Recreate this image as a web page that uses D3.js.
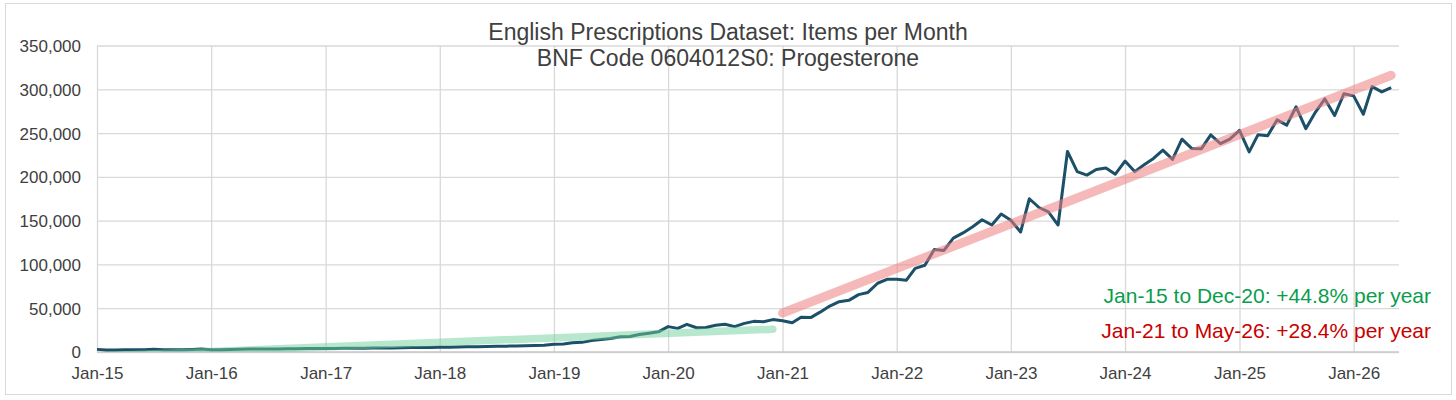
<!DOCTYPE html>
<meta charset="utf-8">
<script src="https://d3js.org/d3.v7.min.js"></script>
<style type="text/css">
body { margin: 0; background: #fff; }
text { font-family: "Liberation Sans", Arial, sans-serif; }
.grade { stroke: #d9d9d9; stroke-width: 1.3; }
.rotulo { fill: #404040; font-size: 17px; }
.serie { fill: none; stroke: #1c4f68; stroke-width: 3; stroke-linejoin: round; }
</style>
<body>
<div id="canvas"></div>
<script>

// monthly items, Jan-15 .. May-26
var inicio = new Date(2015, 0, 1);
var itens = [
    3000, 2400, 2400, 2500, 2600, 2700, 3000, 2600, 2500, 2700, 2900, 3300,
    2600, 2600, 2900, 3200, 3400, 3300, 3500, 3400, 3600, 3800, 3900, 4000,
    4100, 3900, 4200, 4400, 4300, 4600, 4700, 4600, 4900, 5000, 5100, 5200,
    5300, 5400, 5600, 5900, 6100, 6300, 6500, 6700, 6800, 7000, 7300, 7600,
    8800, 9200, 10500, 11000, 13000, 14200, 15400, 17300, 17800, 20000, 21500, 23000,
    29000, 27000, 31600, 27700, 28000, 30500, 31600, 29000, 32700, 35000, 34600, 37000,
    35700, 33400, 39600, 39300, 45500, 52500, 57500, 59000, 65500, 68000, 78500, 83000,
    83000, 82000, 95500, 99000, 117000, 116000, 130000, 136000, 143000, 151000, 145000, 157500,
    150500, 137000, 175000, 165000, 160000, 145000, 229000, 206000, 202000, 208500, 210000, 203000,
    218000, 206000, 213500, 221000, 230500, 220000, 243000, 232500, 232000, 248000, 238000, 243000,
    253000, 228500, 248000, 247000, 265000, 259000, 280000, 255000, 274000, 289000, 270000, 295000,
    292500, 271500, 303000, 297000, 302000
];
var meses = itens.map(function(d, i) { return d3.timeMonth.offset(inicio, i); });

// trend lines (end points)
var tendVerde = [[new Date(2015, 0, 1), -4500], [new Date(2020, 11, 1), 26000]];
var tendVermelha = [[new Date(2021, 0, 1), 44500], [new Date(2026, 4, 1), 316000]];

var anos = ["Jan-15", "Jan-16", "Jan-17", "Jan-18", "Jan-19", "Jan-20", "Jan-21",
            "Jan-22", "Jan-23", "Jan-24", "Jan-25", "Jan-26"];
var valoresY = [0, 50000, 100000, 150000, 200000, 250000, 300000, 350000];

var titulo = ["English Prescriptions Dataset: Items per Month", "BNF Code 0604012S0: Progesterone"];
var notas = [
    {texto: "Jan-15 to Dec-20: +44.8% per year", cor: "#0a9d4c"},
    {texto: "Jan-21 to May-26: +28.4% per year", cor: "#c80000"}
];

var width = 1456;
var height = 400;

var svg = d3.select('#canvas')
    .append("svg")
    .attr('width', width)
    .attr('height', height);

// moldura
svg.append("rect")
    .attr("x", 5.5).attr("y", 3.5)
    .attr("width", 1446).attr("height", 391)
    .attr("fill", "#fff")
    .attr("stroke", "#d9d9d9");

var esq = 97, dir = 1399, topo = 45.5, base = 352;

var x = d3.scaleTime()
    .domain([inicio, new Date(2026, 4, 26)])
    .range([esq, dir]);
var y = d3.scaleLinear()
    .domain([0, 350000])
    .range([base, topo]);

var tickDatas = anos.map(function(a, i) { return new Date(2015 + i, 0, 1); });

// grade horizontal
svg.append("g")
    .attr("transform", "translate(" + esq + ",0)")
    .call(d3.axisLeft(y).tickValues(valoresY).tickSize(-(dir - esq)).tickFormat(""))
    .call(function(g) { g.select(".domain").remove(); })
    .selectAll("line").attr("class", "grade");

// grade vertical
svg.append("g")
    .attr("transform", "translate(0," + base + ")")
    .call(d3.axisBottom(x).tickValues(tickDatas).tickSize(-(base - topo)).tickFormat(""))
    .call(function(g) { g.select(".domain").remove(); })
    .selectAll("line").attr("class", "grade");

// rotulos eixo Y
var eixoY = svg.append("g")
    .attr("transform", "translate(" + 81 + ",0)")
    .call(d3.axisLeft(y).tickValues(valoresY).tickSize(0).tickPadding(0).tickFormat(d3.format(",")));
eixoY.select(".domain").remove();
eixoY.selectAll("text").attr("class", "rotulo").attr("dy", "0.35em");

// rotulos eixo X
var eixoX = svg.append("g")
    .attr("transform", "translate(0," + base + ")")
    .call(d3.axisBottom(x).tickValues(tickDatas).tickSize(0).tickPadding(0)
        .tickFormat(function(d, i) { return anos[i]; }));
eixoX.select(".domain").remove();
eixoX.selectAll("text").attr("class", "rotulo").attr("dy", null).attr("y", 27);

// linha do eixo
svg.append("line")
    .attr("x1", esq).attr("x2", dir)
    .attr("y1", base).attr("y2", base)
    .attr("stroke", "#c8c8c8").attr("stroke-width", 1.5);

svg.append("clipPath").attr("id", "area")
    .append("rect").attr("x", esq).attr("y", topo)
    .attr("width", dir - esq).attr("height", base - topo);

var line = d3.line()
    .x(function(d) { return x(d[0]); })
    .y(function(d) { return y(d[1]); });

var pontos = meses.map(function(m, i) { return [m, itens[i]]; });

svg.append("path")
    .attr("d", line(pontos))
    .attr("class", "serie");

// tendencias
svg.append("path")
    .attr("d", line(tendVerde))
    .attr("clip-path", "url(#area)")
    .attr("stroke", "#6fcf9a").attr("stroke-opacity", 0.5)
    .attr("stroke-width", 7.5).attr("stroke-linecap", "round").attr("fill", "none");

svg.append("path")
    .attr("d", line(tendVermelha))
    .attr("clip-path", "url(#area)")
    .attr("stroke", "#ee8080").attr("stroke-opacity", 0.55)
    .attr("stroke-width", 9).attr("stroke-linecap", "round").attr("fill", "none");

// titulo
svg.selectAll(".titulo")
    .data(titulo)
    .enter()
    .append("text")
    .attr("x", 728)
    .attr("y", function(d, i) { return 40 + i * 26; })
    .attr("text-anchor", "middle")
    .style("font-size", "23px")
    .style("fill", "#404040")
    .text(function(d) { return d; });

// anotacoes
svg.selectAll(".nota")
    .data(notas)
    .enter()
    .append("text")
    .attr("x", 1431)
    .attr("y", function(d, i) { return 303 + i * 34.5; })
    .attr("text-anchor", "end")
    .style("font-size", "21px")
    .style("fill", function(d) { return d.cor; })
    .text(function(d) { return d.texto; });
</script>
</body>
